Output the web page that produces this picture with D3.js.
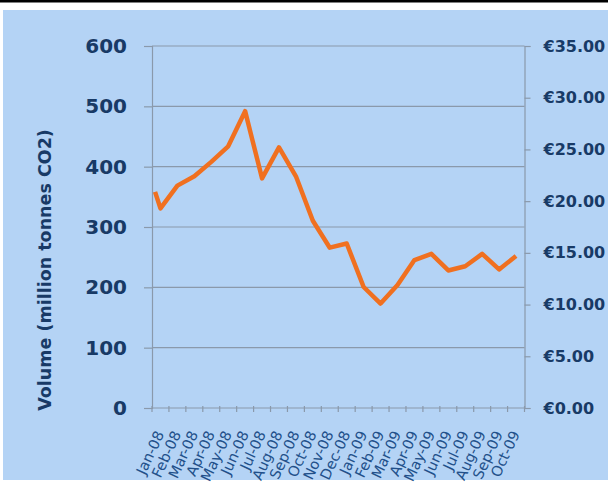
<!DOCTYPE html>
<html>
<head>
<meta charset="utf-8">
<script src="https://cdn.jsdelivr.net/npm/d3@7"></script>
<style>
  html, body { margin: 0; padding: 0; background: #ffffff; }
  svg { display: block; }
</style>
</head>
<body>
<svg id="chart" width="608" height="483"></svg>
<script>
// Month categories on the x axis
const months = ["Jan-08","Feb-08","Mar-08","Apr-08","May-08","Jun-08","Jul-08","Aug-08",
  "Sep-08","Oct-08","Nov-08","Dec-08","Jan-09","Feb-09","Mar-09","Apr-09","May-09",
  "Jun-09","Jul-09","Aug-09","Sep-09","Oct-09"];

// Carbon price (EUR/tonne): position in months from the start of Jan-08, and price
const pricePos = [0.18, 0.5, 1.5, 2.5, 3.5, 4.5, 5.5, 6.5, 7.5, 8.5, 9.5, 10.5, 11.5,
  12.5, 13.5, 14.5, 15.5, 16.5, 17.5, 18.5, 19.5, 20.5, 21.5];
const priceValues = [20.9, 19.3, 21.5, 22.4, 23.8, 25.3, 28.7, 22.2, 25.2, 22.4, 18.1,
  15.5, 15.9, 11.7, 10.1, 11.9, 14.3, 14.9, 13.3, 13.7, 14.9, 13.4, 14.7];

// Axis tick values
const volumeTicks = [0, 100, 200, 300, 400, 500, 600];
const priceTicks = [0, 5, 10, 15, 20, 25, 30, 35];

const svg = d3.select("#chart");
const W = 608, H = 483;
const navy = "#183a66";
const axisGray = "#8a99ab";
const bg = "#b4d3f5";

// Page frame: black rule along the top and the blue panel
svg.append("rect").attr("x", 0).attr("y", 0).attr("width", W).attr("height", 2.5).attr("fill", "#000");
svg.append("rect").attr("x", 3).attr("y", 10).attr("width", W - 3).attr("height", 470).attr("fill", bg);

const plotLeft = 152, plotRight = 524.5, plotTop = 46, plotBottom = 408;

const x = d3.scaleLinear().domain([0, months.length]).range([plotLeft, plotRight]);
const xBand = d3.scaleBand().domain(months).range([plotLeft, plotRight]);
const yVol = d3.scaleLinear().domain([0, 600]).range([plotBottom, plotTop]);
const yPrice = d3.scaleLinear().domain([0, 35]).range([plotBottom, plotTop]);

// Horizontal gridlines on the volume scale
svg.append("g")
  .selectAll("line")
  .data(volumeTicks.filter(d => d > 0))
  .join("line")
  .attr("x1", plotLeft).attr("x2", plotRight)
  .attr("y1", d => yVol(d)).attr("y2", d => yVol(d))
  .attr("stroke", axisGray).attr("stroke-width", 1.2);

// Left axis (volume)
const gL = svg.append("g").attr("transform", `translate(${plotLeft},0)`)
  .call(d3.axisLeft(yVol).tickValues(volumeTicks).tickSize(8).tickPadding(17).tickFormat(d3.format("d")));
gL.select(".domain").attr("stroke", axisGray).attr("stroke-width", 1.2);
gL.selectAll(".tick line").attr("stroke", axisGray).attr("stroke-width", 1.2);
gL.selectAll(".tick text")
  .attr("fill", navy)
  .attr("font-family", "DejaVu Sans, Verdana, sans-serif")
  .attr("font-weight", "bold")
  .attr("font-size", 20);

// Right axis (price)
const gR = svg.append("g").attr("transform", `translate(${plotRight},0)`)
  .call(d3.axisRight(yPrice).tickValues(priceTicks).tickSize(6).tickPadding(13)
    .tickFormat(d => "€" + d3.format(".2f")(d)));
gR.select(".domain").attr("stroke", axisGray).attr("stroke-width", 1.2);
gR.selectAll(".tick line").attr("stroke", axisGray).attr("stroke-width", 1.2);
gR.selectAll(".tick text")
  .attr("fill", navy)
  .attr("font-family", "DejaVu Sans, Verdana, sans-serif")
  .attr("font-weight", "bold")
  .attr("font-size", 16);

// Bottom axis: ticks between months, rotated month labels
const gB = svg.append("g").attr("transform", `translate(0,${plotBottom})`);
gB.append("line").attr("x1", plotLeft).attr("x2", plotRight).attr("y1", 0).attr("y2", 0)
  .attr("stroke", axisGray).attr("stroke-width", 1.2);
gB.selectAll("line.tk")
  .data(d3.range(months.length + 1))
  .join("line").attr("class", "tk")
  .attr("x1", d => x(d)).attr("x2", d => x(d))
  .attr("y1", -2).attr("y2", 4)
  .attr("stroke", axisGray).attr("stroke-width", 1.2);
gB.selectAll("text")
  .data(months)
  .join("text")
  .attr("transform", d => `translate(${xBand(d) + xBand.bandwidth() / 2 + 4},${26}) rotate(-65)`)
  .attr("text-anchor", "end")
  .attr("fill", "#22508a")
  .attr("font-family", "DejaVu Sans, Verdana, sans-serif")
  .attr("font-size", 14.5)
  .text(d => d);

// Y axis title
svg.append("text")
  .attr("transform", `translate(45,270) rotate(-90)`)
  .attr("text-anchor", "middle")
  .attr("dy", "0.35em")
  .attr("fill", navy)
  .attr("font-family", "DejaVu Sans, Verdana, sans-serif")
  .attr("font-weight", "bold")
  .attr("font-size", 17.5)
  .text("Volume (million tonnes CO2)");

// Price line
const line = d3.line()
  .x((d, i) => x(pricePos[i]))
  .y(d => yPrice(d));
svg.append("path")
  .datum(priceValues)
  .attr("d", line)
  .attr("fill", "none")
  .attr("stroke", "#f07020")
  .attr("stroke-width", 4.5)
  .attr("stroke-linejoin", "round")
  .attr("stroke-linecap", "butt");
</script>
</body>
</html>
